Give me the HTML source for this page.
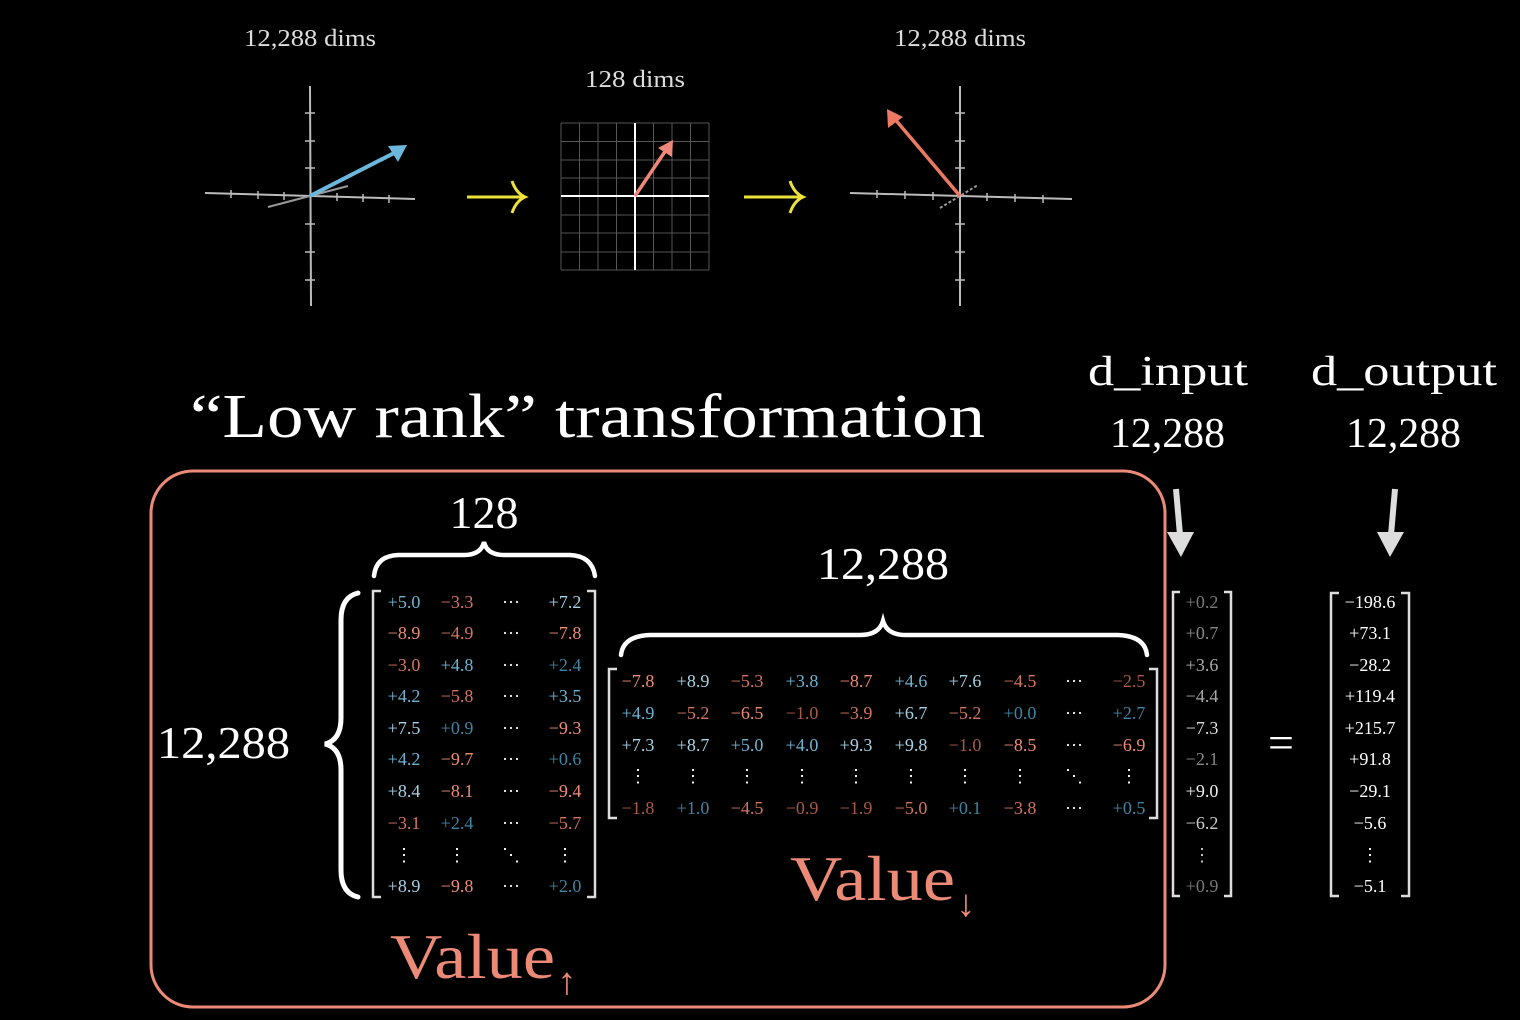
<!DOCTYPE html>
<html><head><meta charset="utf-8"><style>
html,body{margin:0;padding:0;background:#000;}
svg{display:block}
text{font-family:"Liberation Serif",serif;}
.m{font-size:18px;text-anchor:middle}
.b1{fill:#a6d2e4}.b2{fill:#6fb3d2}.b3{fill:#3f84a3}
.r1{fill:#ee8c74}.r2{fill:#d47460}.r3{fill:#a95a48}
.w{fill:#fff}
</style></head><body>
<svg width="1520" height="1020" viewBox="0 0 1520 1020" xmlns="http://www.w3.org/2000/svg">
<rect width="1520" height="1020" fill="#000"/>
<g fill="#ddd" font-size="24" text-anchor="middle">
<text x="310" y="46" textLength="132" lengthAdjust="spacingAndGlyphs">12,288 dims</text>
<text x="635" y="87" textLength="100" lengthAdjust="spacingAndGlyphs">128 dims</text>
<text x="960" y="46" textLength="132" lengthAdjust="spacingAndGlyphs">12,288 dims</text>
</g>
<g stroke="#bbb" stroke-width="2">
<line x1="310" y1="86" x2="311" y2="306"/>
<line x1="205" y1="193" x2="415" y2="199"/>
<line x1="268" y1="207" x2="348" y2="186" stroke="#999"/>
<g stroke-width="1.5">
<line x1="305" y1="113" x2="315" y2="113"/><line x1="305" y1="141" x2="315" y2="141"/><line x1="305" y1="168" x2="315" y2="168"/>
<line x1="305" y1="224" x2="315" y2="224"/><line x1="305" y1="252" x2="315" y2="252"/><line x1="305" y1="280" x2="315" y2="280"/>
<line x1="231" y1="190" x2="231" y2="198"/><line x1="258" y1="191" x2="258" y2="199"/><line x1="284" y1="192" x2="284" y2="200"/>
<line x1="337" y1="193" x2="337" y2="201"/><line x1="363" y1="194" x2="363" y2="202"/><line x1="389" y1="195" x2="389" y2="203"/>
</g></g>
<line x1="310" y1="196" x2="398" y2="151" stroke="#6bb8dc" stroke-width="4"/>
<polygon points="407,145 388,146 398,162" fill="#6bb8dc"/>
<g stroke="#eee23a" stroke-width="3" fill="none">
<line x1="467" y1="197" x2="524" y2="197"/>
<path d="M512 181 Q516 193 525 197 Q516 201 512 213"/>
<line x1="744" y1="197" x2="802" y2="197"/>
<path d="M790 181 Q794 193 803 197 Q794 201 790 213"/>
</g>
<g stroke="#555" stroke-width="1">
<line x1="561" y1="123" x2="561" y2="270"/><line x1="579.5" y1="123" x2="579.5" y2="270"/><line x1="598" y1="123" x2="598" y2="270"/><line x1="616.5" y1="123" x2="616.5" y2="270"/><line x1="653.5" y1="123" x2="653.5" y2="270"/><line x1="672" y1="123" x2="672" y2="270"/><line x1="690.5" y1="123" x2="690.5" y2="270"/><line x1="709" y1="123" x2="709" y2="270"/>
<line x1="561" y1="123" x2="709" y2="123"/><line x1="561" y1="141.5" x2="709" y2="141.5"/><line x1="561" y1="160" x2="709" y2="160"/><line x1="561" y1="178" x2="709" y2="178"/><line x1="561" y1="215" x2="709" y2="215"/><line x1="561" y1="233" x2="709" y2="233"/><line x1="561" y1="252" x2="709" y2="252"/><line x1="561" y1="270" x2="709" y2="270"/>
</g>
<line x1="635" y1="123" x2="635" y2="270" stroke="#fff" stroke-width="2"/>
<line x1="561" y1="196" x2="709" y2="196" stroke="#fff" stroke-width="2"/>
<line x1="635" y1="196" x2="666" y2="150" stroke="#f0887a" stroke-width="3.5"/>
<polygon points="673,140 658,148 672,157" fill="#f0887a"/>
<g stroke="#bbb" stroke-width="2">
<line x1="960" y1="86" x2="960" y2="306"/>
<line x1="850" y1="193" x2="1072" y2="199"/>
<line x1="940" y1="208" x2="978" y2="185" stroke="#999" stroke-dasharray="3,2"/>
<g stroke-width="1.5">
<line x1="955" y1="113" x2="965" y2="113"/><line x1="955" y1="141" x2="965" y2="141"/><line x1="955" y1="168" x2="965" y2="168"/>
<line x1="955" y1="224" x2="965" y2="224"/><line x1="955" y1="252" x2="965" y2="252"/><line x1="955" y1="280" x2="965" y2="280"/>
<line x1="877" y1="190" x2="877" y2="198"/><line x1="905" y1="191" x2="905" y2="199"/><line x1="933" y1="192" x2="933" y2="200"/>
<line x1="987" y1="193" x2="987" y2="201"/><line x1="1015" y1="194" x2="1015" y2="202"/><line x1="1043" y1="195" x2="1043" y2="203"/>
</g></g>
<line x1="960" y1="196" x2="894" y2="118" stroke="#ec7a62" stroke-width="3.5"/>
<polygon points="887,109 888,128 903,117" fill="#ec7a62"/>
<text x="190" y="437" fill="#fff" font-size="62" textLength="795" lengthAdjust="spacingAndGlyphs">“Low rank” transformation</text>
<g fill="#fff" font-size="42">
<text x="1088" y="385" textLength="160" lengthAdjust="spacingAndGlyphs">d_input</text>
<text x="1110" y="447" textLength="115" lengthAdjust="spacingAndGlyphs">12,288</text>
<text x="1311" y="385" textLength="186" lengthAdjust="spacingAndGlyphs">d_output</text>
<text x="1346" y="447" textLength="115" lengthAdjust="spacingAndGlyphs">12,288</text>
</g>
<rect x="151" y="471" width="1014" height="536" rx="42" fill="none" stroke="#ec8a78" stroke-width="3"/>
<g fill="#ddd" stroke="#ddd">
<line x1="1176" y1="489" x2="1180" y2="535" stroke-width="6"/>
<polygon points="1167,532 1194,532 1181,557" stroke="none"/>
<line x1="1395" y1="489" x2="1391" y2="535" stroke-width="6"/>
<polygon points="1377,532 1404,532 1390,557" stroke="none"/>
</g>
<text x="484" y="528" fill="#fff" font-size="46" text-anchor="middle">128</text>
<path d="M374 576 Q376 556 398 555 L464 555 Q481 555 484 542 Q487 555 504 555 L570 555 Q592 556 595 576" fill="none" stroke="#fff" stroke-width="4.5" stroke-linecap="round"/>
<text x="157" y="758" fill="#fff" font-size="46" textLength="133" lengthAdjust="spacingAndGlyphs">12,288</text>
<path d="M358 593 Q341 597 341 620 L341 718 Q341 740 325 744 Q341 748 341 770 L341 870 Q341 893 358 897" fill="none" stroke="#fff" stroke-width="5" stroke-linecap="round"/>
<text x="817" y="579" fill="#fff" font-size="46" textLength="132" lengthAdjust="spacingAndGlyphs">12,288</text>
<path d="M621 655 Q623 636 650 635 L860 635 Q879 635 883 621 Q887 635 906 635 L1118 635 Q1145 636 1147 655" fill="none" stroke="#fff" stroke-width="4.5" stroke-linecap="round"/>
<g fill="none" stroke="#ddd" stroke-width="2.5">
<path d="M381 591 L373 591 L373 897 L381 897"/><path d="M587 591 L595 591 L595 897 L587 897"/>
<path d="M617 669 L609 669 L609 818 L617 818"/><path d="M1149 669 L1157 669 L1157 818 L1149 818"/>
<path d="M1180 592 L1173 592 L1173 896 L1180 896"/><path d="M1224 592 L1231 592 L1231 896 L1224 896"/>
<path d="M1339 593 L1331 593 L1331 896 L1339 896"/><path d="M1401 593 L1409 593 L1409 896 L1401 896"/>
</g>
<g class="m">
<text x="404" y="608" class="b2">+5.0</text><text x="457" y="608" class="r2">−3.3</text><text x="511" y="608" class="w">···</text><text x="565" y="608" class="b1">+7.2</text>
<text x="404" y="639" class="r1">−8.9</text><text x="457" y="639" class="r2">−4.9</text><text x="511" y="639" class="w">···</text><text x="565" y="639" class="r1">−7.8</text>
<text x="404" y="671" class="r2">−3.0</text><text x="457" y="671" class="b2">+4.8</text><text x="511" y="671" class="w">···</text><text x="565" y="671" class="b3">+2.4</text>
<text x="404" y="702" class="b2">+4.2</text><text x="457" y="702" class="r2">−5.8</text><text x="511" y="702" class="w">···</text><text x="565" y="702" class="b2">+3.5</text>
<text x="404" y="734" class="b1">+7.5</text><text x="457" y="734" class="b3">+0.9</text><text x="511" y="734" class="w">···</text><text x="565" y="734" class="r1">−9.3</text>
<text x="404" y="765" class="b2">+4.2</text><text x="457" y="765" class="r1">−9.7</text><text x="511" y="765" class="w">···</text><text x="565" y="765" class="b3">+0.6</text>
<text x="404" y="797" class="b1">+8.4</text><text x="457" y="797" class="r1">−8.1</text><text x="511" y="797" class="w">···</text><text x="565" y="797" class="r1">−9.4</text>
<text x="404" y="829" class="r2">−3.1</text><text x="457" y="829" class="b3">+2.4</text><text x="511" y="829" class="w">···</text><text x="565" y="829" class="r2">−5.7</text>
<text x="404" y="861" class="w">⋮</text><text x="457" y="861" class="w">⋮</text><text x="511" y="861" class="w">⋱</text><text x="565" y="861" class="w">⋮</text>
<text x="404" y="892" class="b1">+8.9</text><text x="457" y="892" class="r1">−9.8</text><text x="511" y="892" class="w">···</text><text x="565" y="892" class="b3">+2.0</text>
</g>
<g class="m">
<text x="638" y="687" class="r1">−7.8</text><text x="693" y="687" class="b1">+8.9</text><text x="747" y="687" class="r2">−5.3</text><text x="802" y="687" class="b2">+3.8</text><text x="856" y="687" class="r1">−8.7</text><text x="911" y="687" class="b2">+4.6</text><text x="965" y="687" class="b1">+7.6</text><text x="1020" y="687" class="r2">−4.5</text><text x="1074" y="687" class="w">···</text><text x="1129" y="687" class="r3">−2.5</text>
<text x="638" y="719" class="b2">+4.9</text><text x="693" y="719" class="r2">−5.2</text><text x="747" y="719" class="r1">−6.5</text><text x="802" y="719" class="r3">−1.0</text><text x="856" y="719" class="r2">−3.9</text><text x="911" y="719" class="b1">+6.7</text><text x="965" y="719" class="r2">−5.2</text><text x="1020" y="719" class="b3">+0.0</text><text x="1074" y="719" class="w">···</text><text x="1129" y="719" class="b3">+2.7</text>
<text x="638" y="751" class="b1">+7.3</text><text x="693" y="751" class="b1">+8.7</text><text x="747" y="751" class="b2">+5.0</text><text x="802" y="751" class="b2">+4.0</text><text x="856" y="751" class="b1">+9.3</text><text x="911" y="751" class="b1">+9.8</text><text x="965" y="751" class="r3">−1.0</text><text x="1020" y="751" class="r1">−8.5</text><text x="1074" y="751" class="w">···</text><text x="1129" y="751" class="r1">−6.9</text>
<text x="638" y="782" class="w">⋮</text><text x="693" y="782" class="w">⋮</text><text x="747" y="782" class="w">⋮</text><text x="802" y="782" class="w">⋮</text><text x="856" y="782" class="w">⋮</text><text x="911" y="782" class="w">⋮</text><text x="965" y="782" class="w">⋮</text><text x="1020" y="782" class="w">⋮</text><text x="1074" y="782" class="w">⋱</text><text x="1129" y="782" class="w">⋮</text>
<text x="638" y="814" class="r3">−1.8</text><text x="693" y="814" class="b3">+1.0</text><text x="747" y="814" class="r2">−4.5</text><text x="802" y="814" class="r3">−0.9</text><text x="856" y="814" class="r3">−1.9</text><text x="911" y="814" class="r2">−5.0</text><text x="965" y="814" class="b3">+0.1</text><text x="1020" y="814" class="r2">−3.8</text><text x="1074" y="814" class="w">···</text><text x="1129" y="814" class="b3">+0.5</text>
</g>
<g class="m">
<text x="1202" y="608" fill="#777">+0.2</text>
<text x="1202" y="639" fill="#888">+0.7</text>
<text x="1202" y="671" fill="#aaa">+3.6</text>
<text x="1202" y="702" fill="#aaa">−4.4</text>
<text x="1202" y="734" fill="#ddd">−7.3</text>
<text x="1202" y="765" fill="#888">−2.1</text>
<text x="1202" y="797" fill="#eee">+9.0</text>
<text x="1202" y="829" fill="#ccc">−6.2</text>
<text x="1202" y="861" fill="#ccc">⋮</text>
<text x="1202" y="892" fill="#777">+0.9</text>
</g>
<text x="1281" y="758" fill="#fff" font-size="46" text-anchor="middle">=</text>
<g class="m" fill="#fff">
<text x="1370" y="608">−198.6</text>
<text x="1370" y="639">+73.1</text>
<text x="1370" y="671">−28.2</text>
<text x="1370" y="702">+119.4</text>
<text x="1370" y="734">+215.7</text>
<text x="1370" y="765">+91.8</text>
<text x="1370" y="797">−29.1</text>
<text x="1370" y="829">−5.6</text>
<text x="1370" y="861">⋮</text>
<text x="1370" y="892">−5.1</text>
</g>
<text x="790" y="900" fill="#ec8a78" font-size="64" textLength="165" lengthAdjust="spacingAndGlyphs">Value</text>
<text x="966" y="916" fill="#ec8a78" font-size="38" text-anchor="middle">↓</text>
<text x="390" y="978" fill="#ec8a78" font-size="64" textLength="165" lengthAdjust="spacingAndGlyphs">Value</text>
<text x="567" y="994" fill="#ec8a78" font-size="38" text-anchor="middle">↑</text>
</svg>
</body></html>
